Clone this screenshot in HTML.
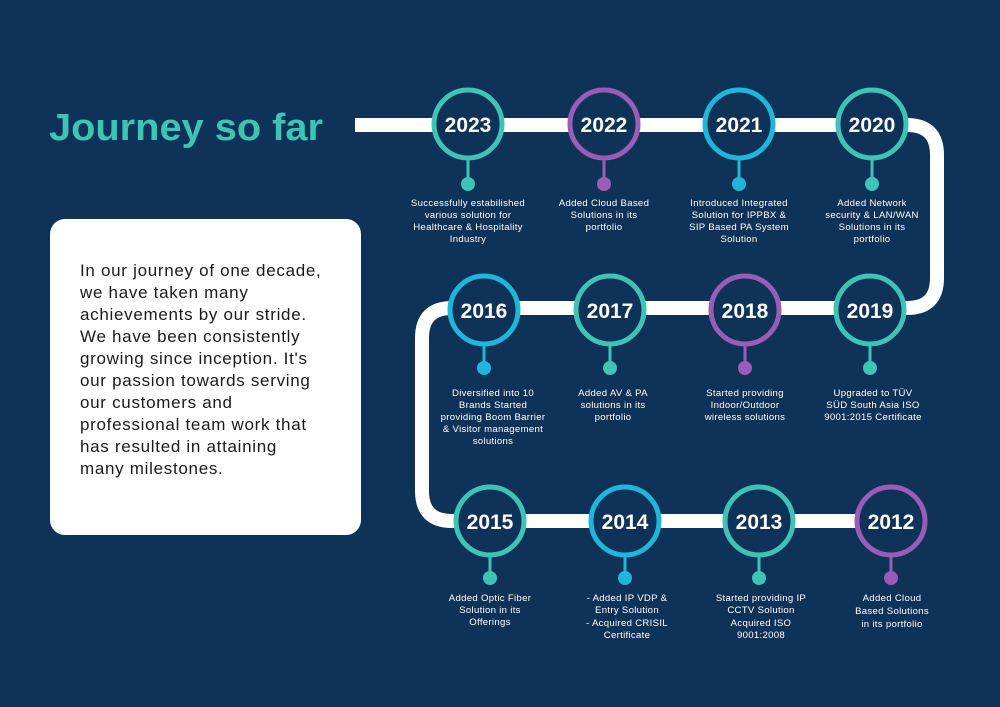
<!DOCTYPE html>
<html><head><meta charset="utf-8"><style>
html,body{margin:0;padding:0;background:#0f3358;}
svg{display:block;}
.y{font-family:"Liberation Sans",sans-serif;font-weight:bold;font-size:21px;fill:#fff;text-anchor:middle;}
.d{font-family:"Liberation Sans",sans-serif;font-size:9.6px;fill:#fff;text-anchor:middle;letter-spacing:0.3px;}
.p{font-family:"Liberation Sans",sans-serif;font-size:17px;fill:#1a1a1a;letter-spacing:0.7px;}
</style></head><body>
<svg width="1000" height="707" viewBox="0 0 1000 707" xmlns="http://www.w3.org/2000/svg">
<rect width="1000" height="707" fill="#0f3358"/>
<text x="49" y="140" font-family="Liberation Sans,sans-serif" font-weight="bold" font-size="38" fill="#3ec3b6" textLength="274" lengthAdjust="spacingAndGlyphs">Journey so far</text>
<path d="M355 125 H907 Q937 125 937 155 V278 Q937 308 907 308 H452 Q422 308 422 338 V491 Q422 521 452 521 H890" fill="none" stroke="#fff" stroke-width="14"/>
<rect x="50" y="219" width="311" height="316" rx="15" fill="#fff"/>
<g class="p">
<text x="80" y="276">In our journey of one decade,</text>
<text x="80" y="298">we have taken many</text>
<text x="80" y="320">achievements by our stride.</text>
<text x="80" y="342">We have been consistently</text>
<text x="80" y="364">growing since inception. It's</text>
<text x="80" y="386">our passion towards serving</text>
<text x="80" y="408">our customers and</text>
<text x="80" y="430">professional team work that</text>
<text x="80" y="452">has resulted in attaining</text>
<text x="80" y="474">many milestones.</text>
</g>
<g stroke-width="5" fill="#0f3358">
<circle cx="468" cy="124" r="34" stroke="#3ec3b6"/>
<circle cx="604" cy="124" r="34" stroke="#9a5db5"/>
<circle cx="739" cy="124" r="34" stroke="#1fb6da"/>
<circle cx="872" cy="124" r="34" stroke="#3ec3b6"/>
<circle cx="484" cy="310" r="34" stroke="#1fb6da"/>
<circle cx="610" cy="310" r="34" stroke="#3ec3b6"/>
<circle cx="745" cy="310" r="34" stroke="#9a5db5"/>
<circle cx="870" cy="310" r="34" stroke="#3ec3b6"/>
<circle cx="490" cy="521" r="34" stroke="#3ec3b6"/>
<circle cx="625" cy="521" r="34" stroke="#1fb6da"/>
<circle cx="759" cy="521" r="34" stroke="#3ec3b6"/>
<circle cx="891" cy="521" r="34" stroke="#9a5db5"/>
</g>
<g stroke-width="3">
<line x1="468" y1="160" x2="468" y2="184" stroke="#3ec3b6"/><circle cx="468" cy="184" r="7" fill="#3ec3b6"/>
<line x1="604" y1="160" x2="604" y2="184" stroke="#9a5db5"/><circle cx="604" cy="184" r="7" fill="#9a5db5"/>
<line x1="739" y1="160" x2="739" y2="184" stroke="#1fb6da"/><circle cx="739" cy="184" r="7" fill="#1fb6da"/>
<line x1="872" y1="160" x2="872" y2="184" stroke="#3ec3b6"/><circle cx="872" cy="184" r="7" fill="#3ec3b6"/>
<line x1="484" y1="346" x2="484" y2="368" stroke="#1fb6da"/><circle cx="484" cy="368" r="7" fill="#1fb6da"/>
<line x1="610" y1="346" x2="610" y2="368" stroke="#3ec3b6"/><circle cx="610" cy="368" r="7" fill="#3ec3b6"/>
<line x1="745" y1="346" x2="745" y2="368" stroke="#9a5db5"/><circle cx="745" cy="368" r="7" fill="#9a5db5"/>
<line x1="870" y1="346" x2="870" y2="368" stroke="#3ec3b6"/><circle cx="870" cy="368" r="7" fill="#3ec3b6"/>
<line x1="490" y1="557" x2="490" y2="578" stroke="#3ec3b6"/><circle cx="490" cy="578" r="7" fill="#3ec3b6"/>
<line x1="625" y1="557" x2="625" y2="578" stroke="#1fb6da"/><circle cx="625" cy="578" r="7" fill="#1fb6da"/>
<line x1="759" y1="557" x2="759" y2="578" stroke="#3ec3b6"/><circle cx="759" cy="578" r="7" fill="#3ec3b6"/>
<line x1="891" y1="557" x2="891" y2="578" stroke="#9a5db5"/><circle cx="891" cy="578" r="7" fill="#9a5db5"/>
</g>
<g class="y">
<text x="468" y="132">2023</text><text x="604" y="132">2022</text><text x="739" y="132">2021</text><text x="872" y="132">2020</text>
<text x="484" y="318">2016</text><text x="610" y="318">2017</text><text x="745" y="318">2018</text><text x="870" y="318">2019</text>
<text x="490" y="529">2015</text><text x="625" y="529">2014</text><text x="759" y="529">2013</text><text x="891" y="529">2012</text>
</g>
<g class="d">
<text x="468" y="206">Successfully estabilished</text><text x="468" y="218">various solution for</text><text x="468" y="230">Healthcare &amp; Hospitality</text><text x="468" y="242">Industry</text>
<text x="604" y="206">Added Cloud Based</text><text x="604" y="218">Solutions in its</text><text x="604" y="230">portfolio</text>
<text x="739" y="206">Introduced Integrated</text><text x="739" y="218">Solution for IPPBX &amp;</text><text x="739" y="230">SIP Based PA System</text><text x="739" y="242">Solution</text>
<text x="872" y="206">Added Network</text><text x="872" y="218">security &amp; LAN/WAN</text><text x="872" y="230">Solutions in its</text><text x="872" y="242">portfolio</text>
<text x="493" y="396">Diversified into 10</text><text x="493" y="408">Brands Started</text><text x="493" y="420">providing Boom Barrier</text><text x="493" y="432">&amp; Visitor management</text><text x="493" y="444">solutions</text>
<text x="613" y="396">Added AV &amp; PA</text><text x="613" y="408">solutions in its</text><text x="613" y="420">portfolio</text>
<text x="745" y="396">Started providing</text><text x="745" y="408">Indoor/Outdoor</text><text x="745" y="420">wireless solutions</text>
<text x="873" y="396">Upgraded to TÜV</text><text x="873" y="408">SÜD South Asia ISO</text><text x="873" y="420">9001:2015 Certificate</text>
<text x="490" y="601">Added Optic Fiber</text><text x="490" y="613">Solution in its</text><text x="490" y="625">Offerings</text>
<text x="627" y="601">- Added IP VDP &amp;</text><text x="627" y="613">Entry Solution</text><text x="627" y="626">- Acquired CRISIL</text><text x="627" y="638">Certificate</text>
<text x="761" y="601">Started providing IP</text><text x="761" y="613">CCTV Solution</text><text x="761" y="626">Acquired ISO</text><text x="761" y="638">9001:2008</text>
<text x="892" y="601">Added Cloud</text><text x="892" y="614">Based Solutions</text><text x="892" y="627">in its portfolio</text>
</g>
</svg>
</body></html>
